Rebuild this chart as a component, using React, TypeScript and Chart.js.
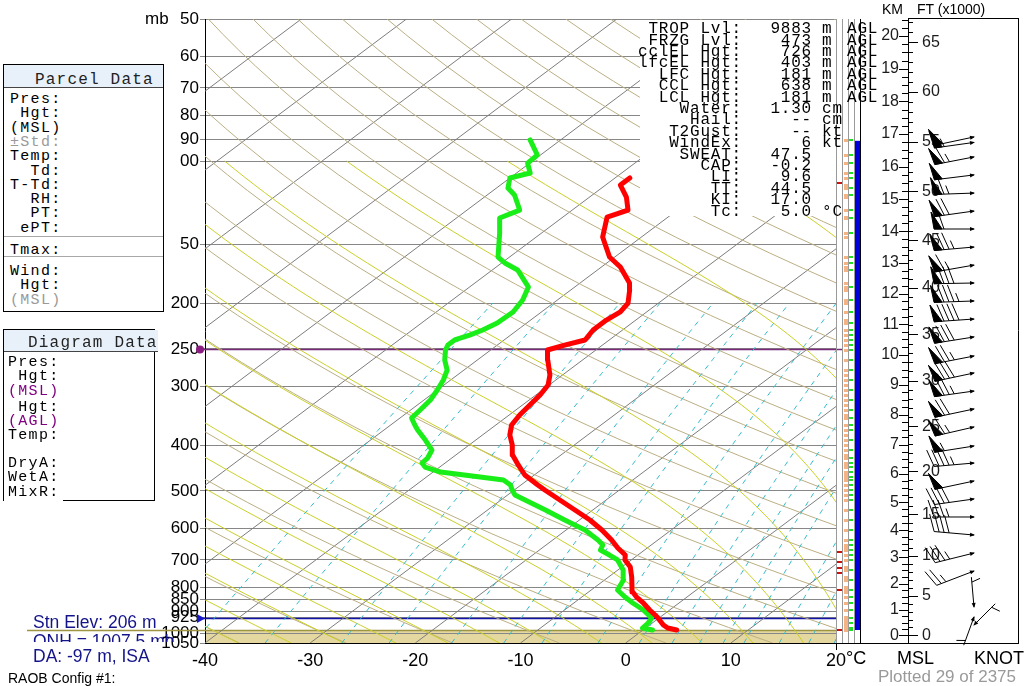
import React, { useEffect, useRef } from 'react';
import { Chart, registerables } from 'chart.js';

Chart.register(...registerables);

// ---------------- data ----------------
const pressureTicks = [50, 60, 70, 80, 90, 100, 150, 200, 250, 300, 400, 500, 600, 700, 800, 850, 900, 925, 1000, 1050];
const pressureTickLabels = ['50', '60', '70', '80', '90', '00', '50', '200', '250', '300', '400', '500', '600', '700', '800', '850', '900', '925', '1000', '1050'];
const tempTicks = [-40, -30, -20, -10, 0, 10, 20];

const tempPressure = [985.5, 975.9, 961.7, 938.6, 924.9, 893.9, 863.8, 839.0, 818.7, 799.0, 760.9, 724.7, 700.3, 683.5, 660.5, 635.3, 605.0, 576.2, 548.7, 522.6, 497.7, 485.7, 462.6, 440.5, 419.6, 399.6, 380.6, 362.5, 345.2, 328.8, 313.1, 298.2, 284.0, 264.0, 251.4, 245.4, 239.4, 228.0, 217.2, 208.8, 199.9, 187.6, 181.3, 167.7, 159.7, 144.8, 131.4, 127.0, 119.2, 112.4, 108.6];
const tempValues = [3.2, 2.1, 1.3, 0.3, -0.3, -1.9, -3.4, -4.8, -5.8, -6.5, -7.8, -9.2, -10.6, -11.2, -12.8, -14.4, -16.6, -19.0, -21.7, -24.4, -27.1, -28.4, -30.9, -32.8, -34.6, -35.9, -37.4, -38.5, -39.0, -39.3, -39.6, -40.1, -41.2, -43.3, -44.6, -43.6, -42.3, -42.8, -42.8, -42.5, -42.9, -44.4, -45.3, -48.2, -50.5, -53.7, -55.8, -54.7, -56.5, -58.6, -58.6];

const dewPressure = [985.5, 975.9, 952.4, 929.4, 893.9, 863.8, 839.0, 810.7, 772.1, 735.3, 700.3, 683.5, 667.0, 650.9, 635.3, 605.0, 576.2, 548.7, 522.6, 510.0, 497.7, 485.7, 474.0, 467.1, 455.9, 444.9, 436.3, 425.8, 409.5, 390.0, 371.4, 362.5, 350.3, 336.9, 320.8, 305.6, 291.0, 277.2, 264.0, 251.4, 245.4, 239.4, 233.7, 228.0, 220.4, 208.8, 197.0, 184.9, 170.1, 164.4, 159.7, 142.0, 132.0, 127.0, 118.0, 114.1, 108.6, 106.0, 101.0, 97.1, 90.2];
const dewValues = [0.9, -0.3, -0.4, -0.7, -2.5, -4.4, -5.9, -7.5, -8.2, -9.5, -11.3, -12.7, -14.2, -14.6, -15.7, -18.2, -21.4, -24.5, -27.7, -29.3, -30.2, -31.0, -32.3, -34.9, -39.3, -41.4, -42.2, -42.3, -42.9, -44.8, -46.8, -47.7, -48.9, -49.1, -49.4, -50.0, -50.7, -51.6, -53.1, -54.3, -54.7, -54.7, -53.9, -53.3, -52.8, -52.7, -53.3, -54.4, -57.6, -59.7, -61.1, -64.0, -65.9, -65.0, -67.4, -68.9, -70.0, -68.7, -70.2, -70.3, -72.9];

const barbPressure = [88.9, 91.3, 98.0, 107.0, 116.9, 127.6, 139.3, 152.1, 166.1, 181.3, 197.9, 216.1, 235.9, 258.9, 281.2, 307.1, 335.2, 366.0, 401.6, 436.3, 476.4, 520.0, 567.8, 620.0, 676.9, 739.0, 880.9, 924.9, 961.7];
const barbDirection = [258, 262, 259, 263, 268, 262, 270, 265, 260, 269, 268, 266, 261, 259, 258, 262, 258, 257, 261, 265, 258, 262, 270, 275, 256, 249, 355, 200, 45];
const barbSpeed = [50, 55, 65, 50, 65, 70, 60, 75, 65, 80, 85, 90, 80, 75, 80, 75, 70, 65, 55, 45, 50, 40, 35, 40, 35, 25, 5, 5, 5];

const markerLevels = [985.5, 811, 746, 728, 706, 673, 111.4];
const WIND_TOP_P = 90.6;
const SURFACE_P = 985.5;
const STN_ELEV_M = 206;
const TROP_P = 250;
const CURSOR_P = 929.4;

// background families (thermodynamic diagram)
const isothermValues = [-120, -110, -100, -90, -80, -70, -60, -50, -40, -30, -20, -10, 0, 10, 20];
const dryThetas = [-40, -30, -20, -10, 0, 10, 20, 30, 40, 50, 60, 70, 80, 90, 100, 110, 120, 130, 140, 150, 160, 170, 180, 190, 200, 210, 220, 230, 240];
const moistThetas = [-40, -35, -30, -25, -20, -15, -10, -5, 0, 5, 10, 15, 20, 25, 30, 35, 40];
const mixingRatios = [0.1, 0.2, 0.4, 0.6, 1, 1.5, 2, 3, 4, 5, 6, 7, 8, 10, 12, 14, 16, 20];

const statLabels = ['TROP Lvl:', 'FRZG Lvl:', 'cclEL Hgt:', 'lfcEL Hgt:', 'LFC Hgt:', 'CCL Hgt:', 'LCL Hgt:', 'Water:', 'Hail:', 'T2Gust:', 'WindEx:', 'SWEAT:', 'CAP:', 'LI:', 'TT:', 'KI:', 'Tc:'];
const statValues = ['9883', '473', '726', '403', '181', '638', '181', '1.30', '--', '--', '6', '47.5', '-0.2', '9.6', '44.5', '17.0', '5.0'];
const statUnits = ['m', 'm', 'm', 'm', 'm', 'm', 'm', 'cm', 'cm', 'kt', 'kt', '', '', '', '', '', '°C'];
const statRefs = ['AGL', 'AGL', 'AGL', 'AGL', 'AGL', 'AGL', 'AGL', '', '', '', '', '', '', '', '', '', ''];

const parcelRows: [string, string?][] = [['Pres:'], [' Hgt:'], ['(MSL)'], ['±Std:', '#9a9a9a'], ['Temp:'], ['  Td:'], ['T-Td:'], ['  RH:'], ['  PT:'], [' ePT:'], ['Tmax:'], ['Wind:'], [' Hgt:'], ['(MSL)', '#9a9a9a']];
const diagramRows: [string, string?][] = [['Pres:'], [' Hgt:'], ['(MSL)', '#800080'], [' Hgt:'], ['(AGL)', '#800080'], ['Temp:'], ['DryA:'], ['WetA:'], ['MixR:']];

// ---------------- helpers ----------------
const SANS = '"Liberation Sans", Arial, sans-serif';
const MONO = '"Liberation Mono", "Courier New", monospace';
const SKEW = 26;
const skewX = (t: number, p: number) => t + SKEW * Math.log(1050 / p);
const logSpace = (p0: number, p1: number, n: number) => Array.from({ length: n + 1 }, (_, i) => p0 * Math.pow(p1 / p0, i / n));

function moistRate(p: number, T: number) {
  const Rd = 287.04, Cp = 1005.7, L = 2.501e6, eps = 0.622;
  const es = 6.112 * Math.exp((17.67 * (T - 273.15)) / (T - 29.65));
  const rs = (eps * es) / (p - es);
  return (Rd * T + L * rs) / (p * (Cp + (L * L * rs * eps) / (Rd * T * T)));
}
function rk4(p: number, T: number, pn: number) {
  const dp = pn - p;
  const k1 = moistRate(p, T);
  const k2 = moistRate(p + dp / 2, T + (dp / 2) * k1);
  const k3 = moistRate(p + dp / 2, T + (dp / 2) * k2);
  const k4 = moistRate(pn, T + dp * k3);
  return T + (dp * (k1 + 2 * k2 + 2 * k3 + k4)) / 6;
}
function moistLine(t1000: number) {
  const out: { x: number; y: number }[] = [];
  const Tdown = rk4(1000, t1000 + 273.15, 1050);
  out.push({ x: skewX(Tdown - 273.15, 1050), y: 1050 });
  let p = 1000, T = t1000 + 273.15;
  out.push({ x: skewX(t1000, 1000), y: 1000 });
  const ps = logSpace(1000, 100, 60);
  for (let i = 1; i < ps.length; i++) {
    T = rk4(p, T, ps[i]);
    p = ps[i];
    out.push({ x: skewX(T - 273.15, p), y: p });
  }
  return out;
}

function bgSet(data: { x: number; y: number }[], color: string, dash?: number[]) {
  return { data, showLine: true, borderColor: color, borderWidth: 1, borderDash: dash || [], pointRadius: 0, fill: false, tension: 0, order: 10 };
}

function buildBackground() {
  const sets: any[] = [];
  mixingRatios.forEach((w) =>
    sets.push(
      bgSet(
        logSpace(1050, 200, 24).map((p) => {
          const e = (w * p) / (622 + w);
          const l = Math.log(e / 6.112);
          return { x: skewX((243.5 * l) / (17.67 - l), p), y: p };
        }),
        '#36bccb',
        [5, 5]
      )
    )
  );
  moistThetas.forEach((tw) => sets.push(bgSet(moistLine(tw), '#cbd028')));
  dryThetas.forEach((th) => sets.push(bgSet(logSpace(1050, 50, 40).map((p) => ({ x: skewX((th + 273.15) * Math.pow(p / 1000, 0.2857) - 273.15, p), y: p })), '#bcaf84')));
  isothermValues.forEach((t) => sets.push(bgSet([{ x: skewX(t, 1050), y: 1050 }, { x: skewX(t, 50), y: 50 }], '#7d7d7d')));
  return sets;
}

// hypsometric heights from the temperature profile
function buildHeights() {
  const RG = 29.2712;
  const lp: number[] = [], zz: number[] = [];
  const T0 = tempValues[0] + 273.15;
  lp.push(Math.log(1100));
  zz.push(STN_ELEV_M - RG * T0 * Math.log(1100 / tempPressure[0]));
  let z = STN_ELEV_M;
  lp.push(Math.log(tempPressure[0]));
  zz.push(z);
  for (let i = 1; i < tempPressure.length; i++) {
    const Tm = (tempValues[i - 1] + tempValues[i]) / 2 + 273.15;
    z += RG * Tm * Math.log(tempPressure[i - 1] / tempPressure[i]);
    lp.push(Math.log(tempPressure[i]));
    zz.push(z);
  }
  const n = tempPressure.length - 1;
  const Tt = tempValues[n] + 273.15;
  lp.push(Math.log(30));
  zz.push(z + RG * Tt * Math.log(tempPressure[n] / 30));
  return { lp, zz };
}
const HEIGHTS = buildHeights();
function pressureAtHeight(zm: number) {
  const { lp, zz } = HEIGHTS;
  for (let i = 0; i < zz.length - 1; i++) {
    if (zm >= zz[i] && zm <= zz[i + 1]) {
      const f = (zm - zz[i]) / (zz[i + 1] - zz[i]);
      return Math.exp(lp[i] + (lp[i + 1] - lp[i]) * f);
    }
  }
  return zm < zz[0] ? 1100 : 30;
}

function line(ctx: CanvasRenderingContext2D, x1: number, y1: number, x2: number, y2: number) {
  ctx.beginPath();
  ctx.moveTo(x1, y1);
  ctx.lineTo(x2, y2);
  ctx.stroke();
}

function drawBarb(ctx: CanvasRenderingContext2D, sx: number, sy: number, dir: number, spd: number, len: number) {
  const r = (dir * Math.PI) / 180;
  const ux = Math.sin(r), uy = -Math.cos(r);
  const nx = -uy, ny = ux;
  const tx = sx + ux * len, ty = sy + uy * len;
  line(ctx, sx, sy, tx, ty);
  ctx.beginPath();
  ctx.moveTo(sx - ux, sy - uy);
  ctx.lineTo(sx + ux * 4 + nx * 2, sy + uy * 4 + ny * 2);
  ctx.lineTo(sx + ux * 4 - nx * 2, sy + uy * 4 - ny * 2);
  ctx.closePath();
  ctx.fill();
  let rest = Math.round(spd / 5) * 5;
  let pos = 0;
  const B = 17, FW = 8, SP = 5;
  while (rest >= 50) {
    const ax = tx - ux * pos, ay = ty - uy * pos;
    const bx = tx - ux * (pos + FW), by = ty - uy * (pos + FW);
    ctx.beginPath();
    ctx.moveTo(ax, ay);
    ctx.lineTo(ax + nx * B + ux * 3, ay + ny * B + uy * 3);
    ctx.lineTo(bx, by);
    ctx.closePath();
    ctx.fill();
    ctx.stroke();
    pos += FW + 2;
    rest -= 50;
  }
  while (rest >= 10) {
    const px = tx - ux * pos, py = ty - uy * pos;
    line(ctx, px, py, px + nx * B + ux * 6, py + ny * B + uy * 6);
    pos += SP;
    rest -= 10;
  }
  if (rest >= 5) {
    if (pos === 0) pos = SP;
    const px = tx - ux * pos, py = ty - uy * pos;
    line(ctx, px, py, px + nx * B * 0.5 + ux * 3, py + ny * B * 0.5 + uy * 3);
  }
}

const extrasPlugin = {
  id: 'skewtExtras',
  beforeDraw(chart: any) {
    const { ctx, chartArea: a } = chart;
    const y = chart.scales.y;
    ctx.save();
    ctx.fillStyle = '#ffffff';
    ctx.fillRect(0, 0, chart.width, chart.height);
    const ys = y.getPixelForValue(SURFACE_P);
    ctx.fillStyle = '#e5d7a0';
    ctx.fillRect(a.left, ys, a.right - a.left, a.bottom - ys);
    ctx.restore();
  },
  beforeDatasetsDraw(chart: any) {
    const { ctx, chartArea: a } = chart;
    const y = chart.scales.y;
    ctx.save();
    const ys = Math.round(y.getPixelForValue(SURFACE_P)) + 0.5;
    ctx.strokeStyle = '#9d9541';
    ctx.lineWidth = 1.5;
    line(ctx, 27, ys, a.right, ys);
    const yc = Math.round(y.getPixelForValue(CURSOR_P)) + 0.5;
    ctx.strokeStyle = '#1414a8';
    ctx.lineWidth = 1.5;
    line(ctx, 198, yc, a.right, yc);
    ctx.fillStyle = '#1a1ac8';
    ctx.beginPath();
    ctx.moveTo(205, yc);
    ctx.lineTo(197, yc - 4.5);
    ctx.lineTo(197, yc + 4.5);
    ctx.closePath();
    ctx.fill();
    const yt = Math.round(y.getPixelForValue(TROP_P)) + 0.5;
    ctx.strokeStyle = '#7a2a7a';
    ctx.lineWidth = 1.3;
    line(ctx, 200, yt, a.right + 6, yt);
    ctx.fillStyle = '#8b1c82';
    ctx.beginPath();
    ctx.arc(200, yt, 4, 0, Math.PI * 2);
    ctx.fill();
    ctx.restore();
  },
  afterDatasetsDraw(chart: any) {
    const { ctx, chartArea: a } = chart;
    ctx.save();
    ctx.fillStyle = '#ffffff';
    ctx.fillRect(640, a.top + 1, a.right - 640, 216 - a.top - 1);
    ctx.restore();
  },
  afterDraw(chart: any) {
    const { ctx, chartArea: a } = chart;
    const y = chart.scales.y;
    const xs = a.right;
    ctx.save();
    // level strip
    ctx.lineWidth = 1;
    ctx.strokeStyle = '#9a9a9a';
    [0, 6, 12, 18].forEach((dx) => line(ctx, xs + dx + 0.5, a.top, xs + dx + 0.5, a.bottom));
    ctx.fillStyle = '#f3b385';
    const allLevels = Array.from(new Set([...tempPressure, ...dewPressure]));
    allLevels.forEach((p) => ctx.fillRect(xs + 8, Math.round(y.getPixelForValue(p)) - 1, 4, 3));
    ctx.fillStyle = '#22dd22';
    dewPressure.forEach((p) => ctx.fillRect(xs + 13, Math.round(y.getPixelForValue(p)) - 1, 4, 2));
    ctx.fillStyle = '#cc1111';
    markerLevels.forEach((p) => ctx.fillRect(xs + 1, Math.round(y.getPixelForValue(p)) - 1, 5, 2));
    const yb1 = y.getPixelForValue(WIND_TOP_P), yb2 = y.getPixelForValue(SURFACE_P);
    ctx.fillStyle = '#0000dd';
    ctx.fillRect(xs + 19, yb1, 5, yb2 - yb1);
    // frame
    const ax = xs + 72;
    const right = xs + 182;
    ctx.strokeStyle = '#000';
    line(ctx, xs + 24.5, a.top, xs + 24.5, a.bottom);
    line(ctx, ax + 0.5, a.top - 1, ax + 0.5, a.bottom);
    line(ctx, right + 0.5, a.top - 1, right + 0.5, a.bottom);
    line(ctx, ax, a.top - 0.5, right + 1, a.top - 0.5);
    line(ctx, xs, a.bottom + 0.5, right + 1, a.bottom + 0.5);
    line(ctx, xs + 0.5, a.bottom, xs + 0.5, a.bottom + 7);
    // height axis
    ctx.fillStyle = '#1c1c1c';
    ctx.font = '16px ' + SANS;
    ctx.textBaseline = 'middle';
    for (let q = 0; q <= 82; q++) {
      const yy = y.getPixelForValue(pressureAtHeight(q * 250));
      if (yy < a.top) continue;
      const r = Math.round(yy) + 0.5;
      if (q % 4 === 0) {
        line(ctx, ax - 9, r, ax, r);
        ctx.textAlign = 'right';
        ctx.fillText(String(q / 4), ax - 9, yy);
      } else line(ctx, ax - 6, r, ax, r);
    }
    for (let ft = 0; ft <= 68000; ft += 1000) {
      const yy = y.getPixelForValue(pressureAtHeight(ft * 0.3048));
      if (yy < a.top) continue;
      const r = Math.round(yy) + 0.5;
      if (ft % 5000 === 0) {
        line(ctx, ax, r, ax + 10, r);
        ctx.textAlign = 'left';
        ctx.fillText(String(ft / 1000), ax + 14, yy);
      } else line(ctx, ax, r, ax + 5, r);
    }
    // wind barbs
    ctx.strokeStyle = '#000';
    ctx.fillStyle = '#000';
    ctx.lineWidth = 1;
    const sx = xs + 138;
    barbPressure.forEach((p, i) => {
      const yy = y.getPixelForValue(p);
      drawBarb(ctx, sx, yy, barbDirection[i], barbSpeed[i], barbSpeed[i] <= 10 ? 30 : 40);
    });
    ctx.restore();
  },
};

type LP = { x: number; cy: number; size: number; lh?: number; color?: string; mono?: boolean; ls?: number; align?: 'left' | 'right'; children: React.ReactNode };
function Label({ x, cy, size, lh, color = '#000', mono = false, ls = 0, align = 'left', children }: LP) {
  const L = lh ?? Math.round(size * 1.25);
  const style: React.CSSProperties = {
    position: 'absolute',
    top: cy - L / 2 + (mono ? 1 : 0),
    height: L,
    lineHeight: L + 'px',
    fontSize: size,
    fontFamily: mono ? MONO : SANS,
    color,
    letterSpacing: ls,
    whiteSpace: 'pre',
  };
  if (align === 'right') style.right = 1024 - x;
  else style.left = x;
  return <div style={style}>{children}</div>;
}

const NAVY = '#14148a';

export default function App() {
  const ref = useRef<HTMLCanvasElement>(null);
  useEffect(() => {
    Chart.defaults.font.family = SANS;
    const datasets: any[] = [
      { data: tempPressure.map((p, i) => ({ x: skewX(tempValues[i], p), y: p })), showLine: true, borderColor: '#ff0000', borderWidth: 5, pointRadius: 0, borderJoinStyle: 'round', borderCapStyle: 'round', tension: 0, order: 0 },
      { data: dewPressure.map((p, i) => ({ x: skewX(dewValues[i], p), y: p })), showLine: true, borderColor: '#19ee19', borderWidth: 5, pointRadius: 0, borderJoinStyle: 'round', borderCapStyle: 'round', tension: 0, order: 1 },
      ...buildBackground(),
    ];
    const chart = new Chart(ref.current as HTMLCanvasElement, {
      type: 'scatter',
      data: { datasets },
      options: {
        animation: false,
        responsive: false,
        devicePixelRatio: 1,
        events: [],
        layout: { padding: { top: 19, right: 188, left: 0, bottom: 0 } },
        plugins: { legend: { display: false }, tooltip: { enabled: false } },
        scales: {
          x: {
            type: 'linear',
            min: -40,
            max: 20,
            position: 'bottom',
            grid: { display: false, drawTicks: false },
            border: { display: true, color: '#000', width: 1 },
            afterBuildTicks: (s: any) => {
              s.ticks = tempTicks.map((v) => ({ value: v }));
            },
            ticks: { color: '#000', font: { size: 18, family: SANS }, padding: 7, maxRotation: 0, autoSkip: false, callback: (v: any) => String(v) },
            afterFit: (s: any) => {
              s.height = 43;
            },
          },
          y: {
            type: 'logarithmic',
            reverse: true,
            min: 50,
            max: 1050,
            position: 'left',
            afterBuildTicks: (s: any) => {
              s.ticks = pressureTicks.map((v) => ({ value: v }));
            },
            ticks: {
              color: '#000',
              font: { size: 17, family: SANS },
              padding: 1,
              autoSkip: false,
              callback: (v: any) => {
                const i = pressureTicks.indexOf(Number(v));
                return i >= 0 ? pressureTickLabels[i] : '';
              },
            },
            grid: { color: '#878787', lineWidth: 1, tickLength: 5, drawTicks: true },
            border: { display: true, color: '#000', width: 1 },
            afterFit: (s: any) => {
              s.width = 205;
            },
          },
        },
      } as any,
      plugins: [extrasPlugin],
    });
    return () => chart.destroy();
  }, []);

  const rowCy = (i: number) => 28.8 + i * 11.4;
  const parcelCy = [99, 113.3, 127.6, 141.9, 156.2, 170.5, 184.8, 199.1, 213.4, 227.7, 250, 271, 285.3, 299.6];
  const diagramCy = [361.7, 375.8, 391.3, 407, 420.8, 435.3, 463.3, 477.3, 491.7];

  return (
    <div style={{ position: 'absolute', left: 0, top: 0, width: 1024, height: 686, background: '#fff', overflow: 'hidden', fontFamily: SANS }}>
      <canvas ref={ref} width={1024} height={686} style={{ position: 'absolute', left: 0, top: 0, width: 1024, height: 686 }} />

      {/* statistics block */}
      {statLabels.map((s, i) => (
        <React.Fragment key={s}>
          <Label x={742} cy={rowCy(i)} size={16} lh={11.4} mono ls={0.8} align="right">{s}</Label>
          <Label x={812} cy={rowCy(i)} size={16} lh={11.4} mono ls={0.8} align="right">{statValues[i]}</Label>
          {statUnits[i] ? <Label x={822} cy={rowCy(i)} size={16} lh={11.4} mono ls={0.8}>{statUnits[i]}</Label> : null}
          {statRefs[i] ? <Label x={847} cy={rowCy(i)} size={16} lh={11.4} mono ls={0.8}>{statRefs[i]}</Label> : null}
        </React.Fragment>
      ))}

      {/* Parcel Data box */}
      <div style={{ position: 'absolute', left: 3, top: 64, width: 161, height: 248, border: '1px solid #000', boxSizing: 'border-box', background: '#fff' }}>
        <div style={{ height: 22, background: '#e8f1fa', borderBottom: '1px solid #444' }} />
      </div>
      <div style={{ position: 'absolute', left: 4, top: 236, width: 159, height: 1, background: '#a8a8a8' }} />
      <div style={{ position: 'absolute', left: 4, top: 256, width: 159, height: 1, background: '#a8a8a8' }} />
      <Label x={35} cy={78.5} size={16} mono ls={1.2} color="#222">Parcel Data</Label>
      {parcelRows.map((r, i) => (
        <Label key={'p' + i} x={10} cy={parcelCy[i]} size={15} lh={14} mono ls={1.3} color={r[1] || '#000'}>{r[0]}</Label>
      ))}

      {/* Diagram Data box */}
      <div style={{ position: 'absolute', left: 3, top: 329, width: 152, height: 172, borderLeft: '1px solid #000', borderRight: '1px solid #000', borderTop: '1px solid #000', boxSizing: 'border-box', background: '#fff' }} />
      <div style={{ position: 'absolute', left: 4, top: 330, width: 154, height: 21, background: '#e8f1fa', borderBottom: '1px solid #444' }} />
      <div style={{ position: 'absolute', left: 63, top: 500, width: 92, height: 1, background: '#000' }} />
      <Label x={28} cy={341.5} size={16} mono ls={1.2} color="#222">Diagram Data</Label>
      {diagramRows.map((r, i) => (
        <Label key={'d' + i} x={8} cy={diagramCy[i]} size={15} lh={14} mono ls={1.3} color={r[1] || '#000'}>{r[0]}</Label>
      ))}

      {/* misc text */}
      <Label x={145} cy={18} size={17}>mb</Label>
      <Label x={882} cy={9} size={14}>KM</Label>
      <Label x={917} cy={9} size={14}>FT (x1000)</Label>
      <Label x={846} cy={658} size={18}>°C</Label>
      <Label x={897} cy={658} size={18}>MSL</Label>
      <Label x={974} cy={658} size={18}>KNOT</Label>
      <Label x={878} cy={676} size={17} color="#9a9a9a">Plotted 29 of 2375</Label>
      <Label x={8} cy={678} size={14}>RAOB Config #1:</Label>

      <Label x={33} cy={622} size={17.5} color={NAVY}>Stn Elev: 206 m</Label>
      <div style={{ position: 'absolute', left: 33, top: 631, height: 11, overflow: 'hidden' }}>
        <div style={{ lineHeight: '20px', height: 20, fontSize: 17.5, color: NAVY, fontFamily: SANS, whiteSpace: 'pre' }}>QNH = 1007.5 mb</div>
      </div>
      <Label x={33} cy={656} size={17.5} color={NAVY}>DA: -97 m, ISA</Label>
    </div>
  );
}
